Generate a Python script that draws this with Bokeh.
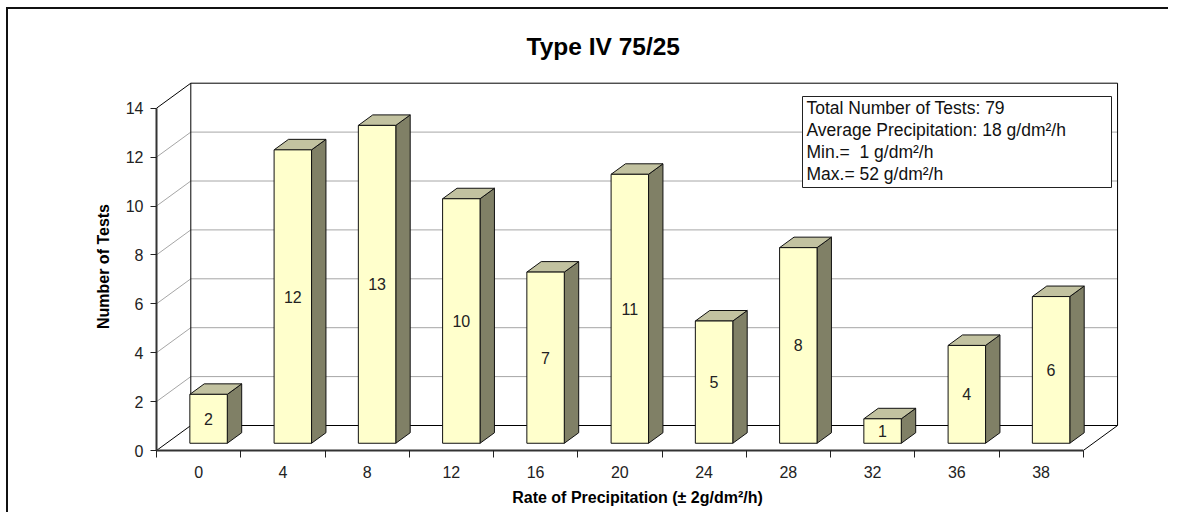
import numpy as np
from bokeh.plotting import figure
from bokeh.models import Range1d, FixedTicker
from bokeh.core.properties import value
from bokeh.embed import file_html
from bokeh.resources import INLINE

# ---------------- data ----------------
categories = ["0", "4", "8", "12", "16", "20", "24", "28", "32", "36", "38"]
counts = [2, 12, 13, 10, 7, 11, 5, 8, 1, 4, 6]
y_ticks = [0, 2, 4, 6, 8, 10, 12, 14]
title_text = "Type IV 75/25"
x_title = "Rate of Precipitation (\u00b1 2g/dm\u00b2/h)"
y_title = "Number of Tests"
info_lines = [
    "Total Number of Tests: 79",
    "Average Precipitation: 18 g/dm\u00b2/h",
    "Min.=\u00a0 1 g/dm\u00b2/h",
    "Max.= 52 g/dm\u00b2/h",
]

# ---------------- style / geometry ----------------
FONT = value("Liberation Sans")
FRONT = "#FFFFCC"
TOPC = "#C2C2A0"
SIDE = "#808066"
GRID = "#A6A6A6"

UX = 84.25      # px per category
UY = 24.45      # px per count
DX_PX, DY_PX = 34.3, 25.0   # 3-D depth offset in px
DX, DY = DX_PX / UX, DY_PX / UY
F1, F2 = 0.29, 0.71          # bar depth position (front/back fraction)
BAR_W = 1 / 2.25
YMAX = 14
n = len(categories)

PADL, PADB, PADR, PADT = 2, 2, 3, 3
frame_w = round(PADL + n * UX + DX_PX + PADR)
frame_h = round(PADB + YMAX * UY + DY_PX + PADT)
x_start = -0.5 - PADL / UX
x_end = x_start + frame_w / UX
y_start = -PADB / UY
y_end = y_start + frame_h / UY

BL, BT, BR, BB = 146, 71, 50, 62
W = BL + frame_w + BR
H = BT + frame_h + BB

p = figure(width=W, height=H, output_backend="svg", toolbar_location=None,
           x_range=Range1d(x_start, x_end), y_range=Range1d(y_start, y_end),
           min_border_left=BL, min_border_right=BR, min_border_top=BT,
           min_border_bottom=BB, title=title_text)
p.styles = {"margin-left": "8px", "margin-top": "9px", "overflow": "hidden",
            "box-shadow": "-2px -2px 0px 0px #111"}
p.outline_line_color = None
p.xgrid.visible = False
p.ygrid.visible = False
p.background_fill_color = "white"
p.border_fill_color = "white"

p.title.align = "left"
p.title.offset = 372
p.title.standoff = 42
p.title.text_font = "Liberation Sans"
p.title.text_font_size = "24.5px"
p.title.text_font_style = "bold"
p.title.text_color = "black"


def px2x(px):
    return (px - 156) / UX - 0.5


def px2y(py):
    return (450 - py) / UY


# ---------------- walls / gridlines ----------------
left_edge = -0.5
right_edge = n - 0.5
inner = [t for t in y_ticks if 0 < t < YMAX]
# back wall gridlines
p.segment(x0=[left_edge + DX] * len(inner), y0=[t + DY for t in inner],
          x1=[right_edge + DX] * len(inner), y1=[t + DY for t in inner],
          line_color=GRID, line_width=1)
# left wall diagonals
p.segment(x0=[left_edge] * len(inner), y0=inner,
          x1=[left_edge + DX] * len(inner), y1=[t + DY for t in inner],
          line_color=GRID, line_width=1)
# wall outlines
p.quad(left=[left_edge + DX], right=[right_edge + DX], bottom=[DY], top=[YMAX + DY],
       fill_color=None, line_color="black", line_width=1)
p.segment(x0=[left_edge, left_edge, right_edge], y0=[0, YMAX, 0],
          x1=[left_edge + DX, left_edge + DX, right_edge + DX], y1=[DY, YMAX + DY, DY],
          line_color="black", line_width=1)

# ---------------- bars ----------------
idx = np.arange(n)
vals = np.array(counts, dtype=float)
x0 = idx - BAR_W / 2
x1 = idx + BAR_W / 2
side_xs = [[b + F1 * DX, b + F2 * DX, b + F2 * DX, b + F1 * DX] for b in x1]
side_ys = [[F1 * DY, F2 * DY, v + F2 * DY, v + F1 * DY] for v in vals]
top_xs = [[a + F1 * DX, b + F1 * DX, b + F2 * DX, a + F2 * DX] for a, b in zip(x0, x1)]
top_ys = [[v + F1 * DY, v + F1 * DY, v + F2 * DY, v + F2 * DY] for v in vals]
p.patches(side_xs, side_ys, fill_color=SIDE, line_color="#111", line_width=1)
p.patches(top_xs, top_ys, fill_color=TOPC, line_color="#111", line_width=1)
p.quad(left=x0 + F1 * DX, right=x1 + F1 * DX, bottom=[F1 * DY] * n, top=vals + F1 * DY,
       fill_color=FRONT, line_color="#111", line_width=1)
p.text(x=idx + F1 * DX, y=vals / 2 + F1 * DY, text=[str(c) for c in counts],
       text_align="center", text_baseline="middle", text_font=FONT,
       text_font_size="16px", text_color="#222")

# front axis lines
p.segment(x0=[left_edge, left_edge], y0=[0, 0], x1=[right_edge, left_edge], y1=[0, YMAX],
          line_color="#333", line_width=2)

# ---------------- axes ----------------
yax = p.yaxis[0]
yax.ticker = FixedTicker(ticks=y_ticks)
yax.axis_line_color = None
yax.major_tick_in = 2
yax.major_tick_out = 4
yax.major_tick_line_color = "#222"
yax.minor_tick_line_color = None
yax.major_label_text_font = "Liberation Sans"
yax.major_label_text_font_size = "16px"
yax.major_label_text_color = "#222"
yax.major_label_standoff = 7
yax.axis_label = y_title
yax.axis_label_text_font = "Liberation Sans"
yax.axis_label_text_font_size = "16px"
yax.axis_label_text_font_style = "bold"
yax.axis_label_text_color = "black"
yax.axis_label_standoff = 11

xax = p.xaxis[0]
xax.ticker = FixedTicker(ticks=list(range(n)), minor_ticks=[i - 0.5 for i in range(n + 1)])
xax.major_label_overrides = {i: c for i, c in enumerate(categories)}
xax.axis_line_color = None
xax.major_tick_line_color = None
xax.major_tick_in = 0
xax.major_tick_out = 0
xax.minor_tick_line_color = "#222"
xax.minor_tick_in = 2
xax.minor_tick_out = 5
xax.major_label_text_font = "Liberation Sans"
xax.major_label_text_font_size = "16px"
xax.major_label_text_color = "#222"
xax.major_label_standoff = 8
xax.axis_label = x_title
xax.axis_label_text_font = "Liberation Sans"
xax.axis_label_text_font_size = "16px"
xax.axis_label_text_font_style = "bold"
xax.axis_label_text_color = "black"
xax.axis_label_standoff = 8

# ---------------- info box ----------------
p.quad(left=[px2x(802)], right=[px2x(1111)], top=[px2y(96)], bottom=[px2y(187)],
       fill_color="white", line_color="#222", line_width=1)
baselines = [107, 129.5, 151.5, 173.5]
p.text(x=[px2x(806)] * len(info_lines), y=[px2y(b) for b in baselines], text=info_lines,
       text_align="left", text_baseline="alphabetic", text_font=FONT,
       text_font_size="17.5px", text_color="#111")

open("out.html", "w").write(file_html(p, INLINE))
